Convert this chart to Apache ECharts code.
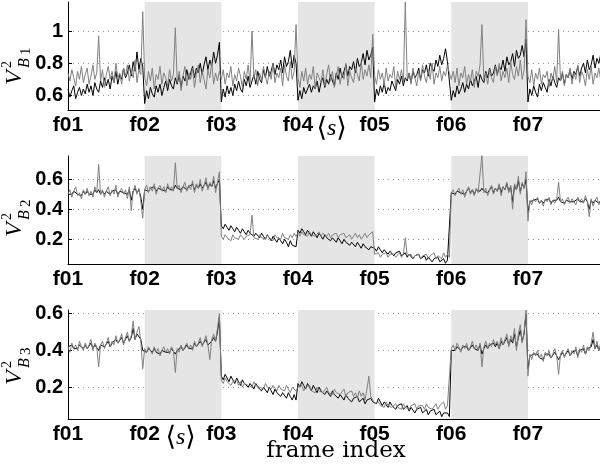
<!DOCTYPE html>
<html>
<head>
<meta charset="utf-8">
<script src="https://cdn.jsdelivr.net/npm/echarts@6/dist/echarts.min.js"></script>
<style>
  html, body { margin: 0; padding: 0; background: #fff; }
  #chart { width: 600px; height: 467px; }
</style>
</head>
<body>
<div id="chart"></div>
<script>
// samples per frame (x is measured in frames, f01 = 0)
const SAMPLES_PER_FRAME = 40;
const frameLabels = ['f01', 'f02', 'f03', 'f04', 'f05', 'f06', 'f07'];
const shadedFrames = [[1, 2], [3, 4], [5, 6]];

const b1Ticks = [0.6, 0.8, 1];
const b2Ticks = [0.2, 0.4, 0.6];
const b3Ticks = [0.2, 0.4, 0.6];

// V^2_B1, one row per frame
const b1Black = [
  .64,.59,.63,.66,.58,.62,.65,.60,.64,.61,.67,.62,.66,.60,.68,.64,.62,.69,.65,.71,.66,.70,.64,.72,.68,.75,.67,.73,.70,.77,.71,.74,.79,.72,.81,.75,.87,.76,.83,.78,
  .55,.63,.58,.65,.61,.59,.66,.62,.67,.60,.65,.69,.63,.70,.66,.64,.71,.67,.73,.65,.72,.69,.76,.70,.74,.78,.71,.77,.74,.80,.73,.79,.84,.76,.82,.78,.87,.80,.85,.93,
  .56,.64,.59,.66,.61,.65,.60,.67,.63,.69,.64,.62,.70,.66,.72,.65,.69,.73,.67,.75,.70,.68,.76,.71,.78,.72,.75,.80,.73,.79,.76,.82,.74,.84,.78,.81,.88,.77,.85,.80,
  .57,.63,.58,.65,.61,.60,.67,.62,.66,.64,.69,.62,.68,.71,.65,.70,.67,.73,.69,.66,.74,.70,.77,.71,.75,.79,.72,.78,.76,.81,.74,.83,.78,.80,.86,.79,.88,.82,.85,.90,
  .56,.64,.60,.66,.62,.68,.61,.65,.63,.69,.66,.63,.70,.67,.72,.66,.71,.69,.74,.68,.75,.71,.73,.77,.70,.76,.74,.79,.72,.80,.77,.75,.82,.78,.85,.79,.83,.89,.81,.82,
  .57,.63,.59,.66,.61,.64,.68,.62,.67,.64,.70,.66,.69,.72,.65,.73,.70,.68,.75,.71,.77,.72,.74,.79,.73,.78,.76,.82,.75,.84,.79,.81,.86,.78,.88,.83,.85,.91,.84,.95,
  .56,.64,.60,.66,.62,.59,.67,.63,.68,.65,.62,.70,.66,.72,.68,.65,.71,.69,.74,.67,.73,.71,.76,.70,.75,.73,.78,.72,.77,.80,.74,.82,.76,.79,.85,.77,.83,.80,.86,.81
];
const b1Gray = [
  .74,.69,.76,.71,.66,.75,.70,.78,.68,.73,.77,.67,.72,.79,.70,.74,.97,.69,.76,.65,.73,.78,.70,.75,.68,.80,.71,.74,.67,.77,.72,.79,.69,.75,.71,.82,.68,.76,.73,1.12,
  .71,.66,.75,.69,.77,.64,.73,.70,.78,.67,.74,.71,.66,.76,.69,.73,1.02,.68,.75,.63,.72,.78,.66,.74,.70,.77,.65,.73,.79,.68,.75,.70,.64,.76,.71,.80,.67,.74,.69,.75,
  .70,.76,.67,.74,.71,.78,.66,.73,.69,.77,.72,.65,.75,.70,.79,.68,1.0,.71,.76,.66,.74,.69,.78,.72,.67,.75,.70,.80,.68,.74,.71,.77,.66,.79,.72,.69,.81,.70,.75,1.04,
  .71,.65,.75,.69,.77,.67,.73,.70,.78,.64,.74,.71,.68,.76,.66,.73,.79,.69,.75,.65,.72,.78,.67,.74,.70,.80,.66,.75,.71,.68,.77,.73,.69,.81,.70,.76,.72,.79,.71,.98,
  .72,.67,.76,.70,.74,.66,.77,.69,.73,.71,.78,.65,.75,.70,.76,.68,1.18,.70,.74,.67,.77,.71,.66,.75,.69,.79,.72,.68,.76,.70,.80,.67,.74,.71,.78,.69,.75,.72,.79,.74,
  .70,.75,.68,.77,.66,.74,.71,.78,.67,.73,.69,.76,.65,.75,.72,.79,1.04,.70,.74,.67,.76,.71,.68,.78,.72,.80,.69,.75,.71,.77,.68,.81,.73,.70,.78,.72,.82,.70,.76,1.07,
  .72,.68,.76,.66,.74,.70,.77,.67,.73,.71,.75,.65,.74,.70,.78,.68,1.01,.69,.75,.66,.73,.71,.77,.67,.74,.70,.79,.68,.75,.72,.66,.76,.70,.78,.67,.74,.71,.77,.69,.75
];

// V^2_B2
const b2Black = [
  .50,.51,.50,.52,.51,.50,.51,.49,.52,.50,.52,.50,.51,.50,.53,.51,.53,.50,.52,.50,.52,.53,.50,.52,.51,.53,.50,.52,.53,.51,.52,.50,.53,.46,.52,.54,.51,.53,.48,.40,
  .53,.54,.52,.54,.53,.55,.52,.54,.55,.53,.54,.52,.55,.53,.54,.53,.56,.54,.55,.53,.55,.56,.53,.55,.54,.57,.53,.56,.54,.57,.54,.56,.58,.54,.57,.55,.59,.54,.57,.60,
  .29,.27,.30,.28,.26,.29,.27,.25,.28,.26,.24,.27,.25,.23,.26,.24,.25,.22,.24,.23,.21,.24,.22,.20,.23,.21,.19,.22,.20,.18,.21,.19,.17,.20,.18,.15,.19,.16,.17,.15,
  .26,.24,.27,.25,.23,.26,.24,.22,.25,.23,.21,.24,.22,.20,.23,.21,.22,.19,.21,.20,.18,.21,.19,.17,.20,.18,.19,.16,.18,.17,.15,.18,.16,.14,.17,.15,.16,.13,.15,.14,
  .14,.12,.15,.13,.11,.13,.12,.10,.12,.11,.09,.11,.10,.12,.09,.10,.11,.08,.10,.09,.07,.09,.08,.10,.07,.08,.09,.06,.08,.07,.05,.07,.06,.08,.05,.06,.07,.04,.06,.05,
  .51,.52,.50,.52,.53,.51,.52,.50,.52,.54,.51,.53,.50,.53,.52,.52,.54,.52,.53,.51,.53,.55,.51,.54,.52,.56,.51,.55,.53,.57,.52,.55,.45,.56,.53,.59,.52,.57,.54,.60,
  .38,.45,.44,.46,.45,.47,.44,.46,.44,.46,.45,.47,.44,.46,.45,.46,.48,.45,.46,.44,.46,.47,.45,.46,.45,.44,.47,.45,.46,.45,.47,.45,.40,.46,.44,.46,.47,.44,.46,.45
];
const b2Gray = [
  .50,.53,.48,.52,.55,.49,.51,.47,.53,.50,.54,.49,.52,.48,.55,.51,.70,.50,.53,.48,.52,.55,.49,.53,.50,.56,.48,.52,.54,.50,.53,.47,.55,.39,.52,.56,.50,.54,.45,.34,
  .53,.56,.51,.55,.52,.57,.50,.54,.56,.52,.55,.51,.57,.53,.55,.52,.71,.54,.56,.51,.55,.58,.52,.56,.53,.59,.51,.57,.54,.60,.52,.56,.61,.53,.58,.55,.62,.51,.58,.65,
  .22,.20,.23,.21,.22,.19,.23,.21,.22,.20,.23,.22,.20,.22,.21,.23,.36,.21,.22,.20,.23,.21,.22,.20,.23,.21,.22,.19,.23,.21,.22,.20,.24,.21,.22,.20,.23,.21,.24,.22,
  .24,.22,.25,.23,.24,.22,.25,.23,.24,.22,.23,.25,.22,.24,.23,.22,.24,.21,.23,.22,.24,.21,.23,.22,.24,.21,.22,.23,.20,.22,.24,.21,.23,.20,.22,.24,.21,.23,.22,.25,
  .10,.09,.11,.08,.10,.09,.11,.08,.10,.09,.10,.08,.09,.11,.08,.10,.21,.09,.08,.10,.07,.09,.08,.10,.07,.09,.08,.10,.07,.09,.08,.11,.07,.09,.10,.07,.11,.08,.10,.08,
  .51,.53,.49,.52,.54,.50,.53,.48,.52,.55,.50,.53,.49,.54,.51,.52,.76,.51,.54,.49,.53,.56,.50,.54,.52,.57,.49,.55,.53,.58,.51,.56,.40,.57,.53,.62,.50,.58,.54,.65,
  .32,.46,.43,.47,.45,.48,.44,.46,.42,.47,.45,.48,.43,.46,.44,.47,.58,.45,.47,.43,.46,.48,.44,.47,.45,.43,.48,.45,.47,.44,.49,.45,.35,.47,.42,.46,.48,.43,.46,.45
];

// V^2_B3
const b3Black = [
  .42,.41,.43,.41,.42,.41,.43,.42,.41,.43,.41,.42,.44,.41,.43,.42,.40,.43,.44,.42,.43,.45,.42,.44,.43,.46,.44,.45,.47,.44,.46,.48,.45,.47,.52,.46,.49,.50,.46,.40,
  .40,.39,.41,.40,.39,.41,.39,.40,.38,.40,.41,.39,.40,.39,.41,.40,.38,.40,.40,.42,.40,.41,.43,.41,.42,.41,.44,.42,.43,.45,.43,.44,.46,.43,.42,.45,.47,.45,.50,.58,
  .26,.24,.27,.25,.23,.26,.24,.22,.25,.23,.21,.24,.22,.23,.20,.22,.21,.19,.22,.20,.21,.18,.20,.19,.17,.20,.18,.16,.19,.17,.18,.15,.17,.16,.14,.17,.15,.13,.16,.13,
  .22,.20,.23,.21,.19,.22,.20,.18,.21,.19,.17,.20,.18,.19,.16,.18,.17,.15,.18,.16,.17,.14,.16,.15,.13,.16,.14,.15,.12,.14,.13,.15,.12,.13,.14,.11,.13,.12,.14,.12,
  .13,.11,.14,.12,.10,.12,.11,.09,.12,.10,.11,.08,.10,.09,.11,.08,.09,.10,.07,.09,.08,.06,.08,.07,.09,.06,.07,.08,.05,.07,.06,.08,.05,.06,.07,.04,.06,.05,.06,.04,
  .40,.41,.40,.42,.41,.40,.42,.41,.42,.40,.41,.43,.41,.42,.40,.43,.38,.41,.43,.41,.43,.42,.44,.42,.44,.41,.45,.43,.45,.47,.43,.46,.44,.49,.42,.47,.51,.45,.49,.60,
  .30,.37,.36,.38,.37,.38,.36,.37,.35,.38,.37,.38,.36,.37,.39,.37,.35,.37,.39,.37,.38,.40,.37,.39,.38,.40,.37,.40,.39,.41,.38,.41,.40,.42,.46,.41,.43,.40,.43,.41
];
const b3Gray = [
  .42,.39,.44,.41,.43,.40,.45,.42,.40,.44,.41,.43,.46,.40,.44,.42,.31,.43,.45,.41,.44,.47,.42,.45,.43,.48,.44,.46,.49,.43,.47,.50,.45,.48,.56,.46,.50,.53,.45,.30,
  .41,.39,.42,.40,.38,.42,.39,.41,.37,.40,.42,.39,.41,.38,.42,.40,.28,.41,.39,.43,.40,.42,.44,.41,.43,.40,.45,.42,.44,.47,.42,.45,.48,.43,.35,.46,.49,.45,.52,.60,
  .24,.22,.25,.23,.24,.21,.23,.22,.24,.21,.23,.20,.22,.23,.21,.22,.20,.23,.21,.22,.20,.21,.19,.22,.20,.21,.19,.21,.20,.18,.21,.19,.20,.18,.21,.19,.17,.20,.19,.18,
  .20,.19,.21,.18,.20,.19,.21,.18,.19,.17,.20,.18,.19,.17,.18,.20,.17,.18,.16,.19,.17,.18,.16,.17,.19,.15,.17,.16,.18,.15,.17,.14,.18,.15,.17,.13,.19,.26,.15,.13,
  .11,.10,.12,.10,.11,.09,.12,.10,.11,.09,.10,.11,.09,.10,.08,.11,.09,.10,.08,.10,.09,.11,.08,.10,.09,.10,.08,.11,.09,.10,.08,.09,.11,.08,.10,.09,.12,.08,.10,.09,
  .41,.43,.40,.44,.42,.39,.43,.41,.44,.40,.42,.45,.41,.43,.40,.44,.31,.42,.45,.41,.44,.42,.46,.43,.45,.41,.47,.43,.46,.49,.42,.48,.45,.52,.40,.49,.54,.44,.50,.62,
  .26,.38,.35,.39,.37,.40,.36,.38,.34,.39,.37,.40,.36,.38,.41,.37,.27,.38,.40,.36,.39,.41,.37,.40,.38,.42,.36,.41,.39,.43,.38,.42,.40,.44,.50,.41,.45,.40,.44,.42
];

const chart = echarts.init(document.getElementById('chart'));

const panels = [
  { sub: '1', black: b1Black, gray: b1Gray, ticks: b1Ticks, min: 0.51, max: 1.18,
    top: 2, height: 108, sAt: 3.44, nameBottom: 85 },
  { sub: '2', black: b2Black, gray: b2Gray, ticks: b2Ticks, min: 0.035, max: 0.755,
    top: 156, height: 108, sAt: null, nameBottom: 237 },
  { sub: '3', black: b3Black, gray: b3Gray, ticks: b3Ticks, min: 0.027, max: 0.62,
    top: 310, height: 109, sAt: 1.47, nameBottom: 385 }
];

const toPoints = arr => arr.map((v, i) => [i / SAMPLES_PER_FRAME, v]);

const grids = [], xAxes = [], yAxes = [], series = [], graphics = [];

panels.forEach((p, k) => {
  grids.push({ left: 68, top: p.top, width: 532, height: p.height, outerBoundsMode: 'none' });

  const xVals = frameLabels.map((_, i) => i);
  if (p.sAt !== null) xVals.push(p.sAt);

  xAxes.push({
    type: 'value', gridIndex: k, min: 0, max: 6.94,
    axisLine: { show: true, lineStyle: { color: '#000', width: 1 } },
    axisTick: { show: false },
    splitLine: { show: false },
    axisLabel: {
      customValues: xVals,
      margin: 5,
      color: '#000',
      fontFamily: '"Liberation Sans", Arial, sans-serif',
      fontWeight: 'bold',
      fontSize: 21,
      formatter: v => Number.isInteger(v) ? frameLabels[v] : '{a|⟨}{s|s}{a|⟩}',
      rich: {
        a: { fontFamily: '"DejaVu Sans"', fontSize: 27, fontWeight: 'normal', color: '#000' },
        s: { fontFamily: '"Liberation Serif"', fontStyle: 'italic', fontSize: 24, fontWeight: 'normal', color: '#000' }
      }
    }
  });

  yAxes.push({
    type: 'value', gridIndex: k, min: p.min, max: p.max,
    axisLine: { show: true, lineStyle: { color: '#000', width: 1 } },
    axisTick: { show: true, inside: true, length: 4, customValues: p.ticks, lineStyle: { color: '#000' } },
    splitLine: { show: true, lineStyle: { color: '#9a9a9a', width: 1, type: [1, 4] } },
    axisLabel: {
      customValues: p.ticks,
      margin: 5,
      color: '#000',
      fontFamily: '"Liberation Sans", Arial, sans-serif',
      fontWeight: 'bold',
      fontSize: 20,
      formatter: v => String(v)
    }
  });

  series.push({
    type: 'line', xAxisIndex: k, yAxisIndex: k,
    data: toPoints(p.black),
    showSymbol: false, symbol: 'none',
    lineStyle: { color: '#000', width: 1 },
    z: 2,
    markArea: {
      silent: true,
      itemStyle: { color: '#e5e5e5' },
      data: shadedFrames.map(([a, b]) => [{ xAxis: a }, { xAxis: b }])
    }
  });
  series.push({
    type: 'line', xAxisIndex: k, yAxisIndex: k,
    data: toPoints(p.gray),
    showSymbol: false, symbol: 'none',
    lineStyle: { color: '#808080', width: 1 },
    z: 3
  });

  // y label V^2_{Bn}, rotated to read bottom-to-top
  graphics.push({
    type: 'group', x: 15, y: p.nameBottom, rotation: Math.PI / 2,
    children: [
      { type: 'text', x: 0, y: 0, style: { text: 'V', font: 'italic 24px "Liberation Serif"', fill: '#000', align: 'left', verticalAlign: 'middle' } },
      { type: 'text', x: 17, y: -8, style: { text: '2', font: '14px "Liberation Serif"', fill: '#000', align: 'left', verticalAlign: 'middle' } },
      { type: 'text', x: 17, y: 10, style: { text: 'B', font: 'italic 16px "Liberation Serif"', fill: '#000', align: 'left', verticalAlign: 'middle' } },
      { type: 'text', x: 30, y: 11, style: { text: p.sub, font: '15px "Liberation Serif"', fill: '#000', align: 'left', verticalAlign: 'middle' } }
    ]
  });
});

graphics.push({
  type: 'text', x: 336, y: 451,
  style: { text: 'frame index', font: '23px "DejaVu Serif"', fill: '#000', align: 'center', verticalAlign: 'middle' }
});

chart.setOption({
  animation: false,
  backgroundColor: '#fff',
  grid: grids,
  xAxis: xAxes,
  yAxis: yAxes,
  series: series,
  graphic: graphics
});
</script>
</body>
</html>
